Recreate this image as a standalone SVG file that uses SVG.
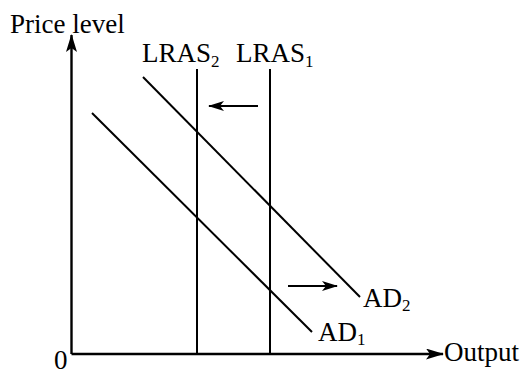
<svg xmlns="http://www.w3.org/2000/svg" width="524" height="376" viewBox="0 0 524 376">
<style>
.ln{stroke:#000;stroke-width:2;fill:none}
.ax{stroke:#000;stroke-width:2.4;fill:none}
.t{font-family:"Liberation Serif","Times New Roman",serif;font-size:27px;fill:#000}
.s{font-size:17px}
</style>
<defs>
<marker id="ah" viewBox="0 0 16 10" refX="15" refY="5" markerWidth="16" markerHeight="10" markerUnits="userSpaceOnUse" orient="auto">
<path d="M0,0 L16,5 L0,10 L4,5 Z" fill="#000"/>
</marker>
<marker id="axh" viewBox="0 0 18 11" refX="17" refY="5.5" markerWidth="18" markerHeight="11" markerUnits="userSpaceOnUse" orient="auto">
<path d="M0,0 L18,5.5 L0,11 L4,5.5 Z" fill="#000"/>
</marker>
</defs>
<g id="axes">
<line class="ax" x1="71.5" y1="354" x2="71.5" y2="35" marker-end="url(#axh)"/>
<line class="ax" x1="71.5" y1="354" x2="443" y2="354" marker-end="url(#axh)"/>
<text class="t" x="10" y="33">Price level</text>
<text class="t" x="444" y="361">Output</text>
<text class="t" x="54" y="369">0</text>
</g>
<g id="lras2">
<line class="ln" x1="197" y1="69" x2="197" y2="354"/>
<text class="t" x="142" y="62">LRAS<tspan class="s" dy="5">2</tspan></text>
</g>
<g id="lras1">
<line class="ln" x1="270" y1="69" x2="270" y2="354"/>
<text class="t" x="236" y="62">LRAS<tspan class="s" dy="5">1</tspan></text>
</g>
<g id="ad1">
<line class="ln" x1="92" y1="113" x2="312" y2="332"/>
<text class="t" x="318" y="341">AD<tspan class="s" dy="4">1</tspan></text>
</g>
<g id="ad2">
<line class="ln" x1="143" y1="77" x2="360" y2="297"/>
<text class="t" x="363" y="307">AD<tspan class="s" dy="4">2</tspan></text>
</g>
<g id="connectors">
<line class="ln" x1="258" y1="106" x2="209" y2="106" marker-end="url(#ah)"/>
<line class="ln" x1="288" y1="286" x2="337" y2="286" marker-end="url(#ah)"/>
</g>
</svg>
